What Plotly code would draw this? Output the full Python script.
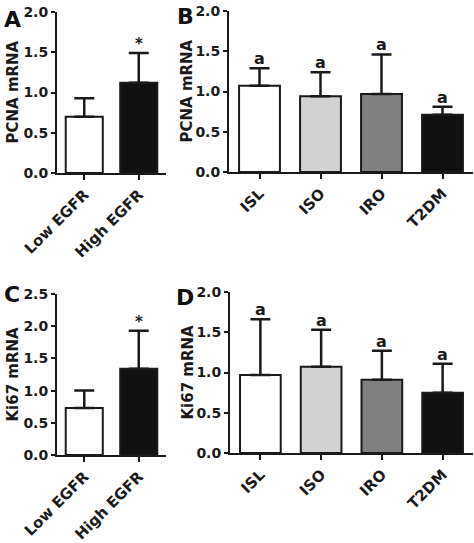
import plotly.graph_objects as go

# ---- data ----
egfr_cats = ["Low EGFR", "High EGFR"]
group_cats = ["ISL", "ISO", "IRO", "T2DM"]

pcna_egfr_mean = [0.70, 1.12]
pcna_egfr_err = [0.23, 0.37]
pcna_group_mean = [1.07, 0.94, 0.97, 0.71]
pcna_group_err = [0.22, 0.30, 0.49, 0.10]

ki67_egfr_mean = [0.73, 1.34]
ki67_egfr_err = [0.27, 0.59]
ki67_group_mean = [0.97, 1.07, 0.91, 0.75]
ki67_group_err = [0.69, 0.46, 0.36, 0.36]

egfr_marks = ["", "*"]
group_marks = ["a", "a", "a", "a"]

egfr_colors = ["#ffffff", "#111111"]
group_colors = ["#ffffff", "#d2d2d2", "#808080", "#111111"]

W, H = 474, 543
FONT = "DejaVu Sans, Liberation Sans, Arial, sans-serif"
INK = "#1a1a1a"


def px_x(p):
    return p / W


def px_y(p):
    return 1 - p / H


fig = go.Figure()

panels = [
    ("", egfr_cats, pcna_egfr_mean, pcna_egfr_err, egfr_colors, egfr_marks, [0, 2.0], "PCNA mRNA", 57, 166, 12, 173, 0.68, "A", (12, 19), 12),
    ("2", group_cats, pcna_group_mean, pcna_group_err, group_colors, group_marks, [0, 2.0], "PCNA mRNA", 229, 473, 11, 172, 0.67, "B", (185, 16), 187),
    ("3", egfr_cats, ki67_egfr_mean, ki67_egfr_err, egfr_colors, egfr_marks, [0, 2.5], "Ki67 mRNA", 57, 166, 294, 455, 0.68, "C", (12, 294), 12),
    ("4", group_cats, ki67_group_mean, ki67_group_err, group_colors, group_marks, [0, 2.0], "Ki67 mRNA", 230, 473, 292, 453, 0.67, "D", (185, 297), 187),
]

layout = dict(
    width=W, height=H, margin=dict(l=0, r=0, t=0, b=0, autoexpand=False),
    paper_bgcolor="white", plot_bgcolor="white", showlegend=False,
    font=dict(family=FONT, color=INK),
)
annotations = []

for suf, cats, mean, err, colors, marks, yr, title, x0, x1, yt, yb, bw, letter, lpos, tx in panels:
    xa = "x" + suf
    ya = "y" + suf
    fig.add_trace(go.Bar(
        x=cats, y=mean, xaxis=xa, yaxis=ya, width=bw,
        marker=dict(color=colors, line=dict(color=INK, width=2)),
        error_y=dict(type="data", symmetric=False, array=err,
                     arrayminus=[0] * len(err), color=INK,
                     thickness=2.5, width=10),
    ))
    layout["xaxis" + suf] = dict(
        domain=[px_x(x0), px_x(x1)], anchor=ya, automargin=False,
        range=[-0.5, len(cats) - 0.5],
        showline=True, linecolor=INK, linewidth=2,
        ticks="outside", ticklen=5, tickwidth=2, tickcolor=INK,
        tickangle=-45, showgrid=False, zeroline=False,
        ticklabeloverflow="allow",
        tickfont=dict(family=FONT, size=15, weight="bold", color=INK),
    )
    layout["yaxis" + suf] = dict(
        domain=[px_y(yb), px_y(yt)], anchor=xa, automargin=False,
        range=yr, dtick=0.5, tickformat=".1f",
        showline=True, linecolor=INK, linewidth=2,
        ticks="outside", ticklen=4, tickwidth=2, tickcolor=INK,
        showgrid=False, zeroline=False, ticklabeloverflow="allow",
        tickfont=dict(family=FONT, size=14, weight="bold", color=INK),
    )
    annotations.append(dict(
        x=px_x(tx), y=px_y((yt + yb) / 2), xref="paper", yref="paper",
        text=title, textangle=-90, showarrow=False,
        xanchor="center", yanchor="middle",
        font=dict(family=FONT, size=15, weight="bold", color=INK),
    ))
    for c, m, e, t in zip(cats, mean, err, marks):
        if t:
            annotations.append(dict(
                x=c, y=m + e, xref=xa, yref=ya, text=t, showarrow=False,
                yanchor="bottom", yshift=-2,
                font=dict(family=FONT, size=16 if t == "a" else 15,
                          weight="bold", color=INK),
            ))
    annotations.append(dict(
        x=px_x(lpos[0]), y=px_y(lpos[1]), xref="paper", yref="paper",
        text=letter, showarrow=False, xanchor="center", yanchor="middle",
        font=dict(family=FONT, size=22, weight="bold", color="#111111"),
    ))

layout["annotations"] = annotations
fig.update_layout(**layout)
fig.write_html("out.html", config={"displayModeBar": False},
               post_script="document.body.style.margin='0';")
